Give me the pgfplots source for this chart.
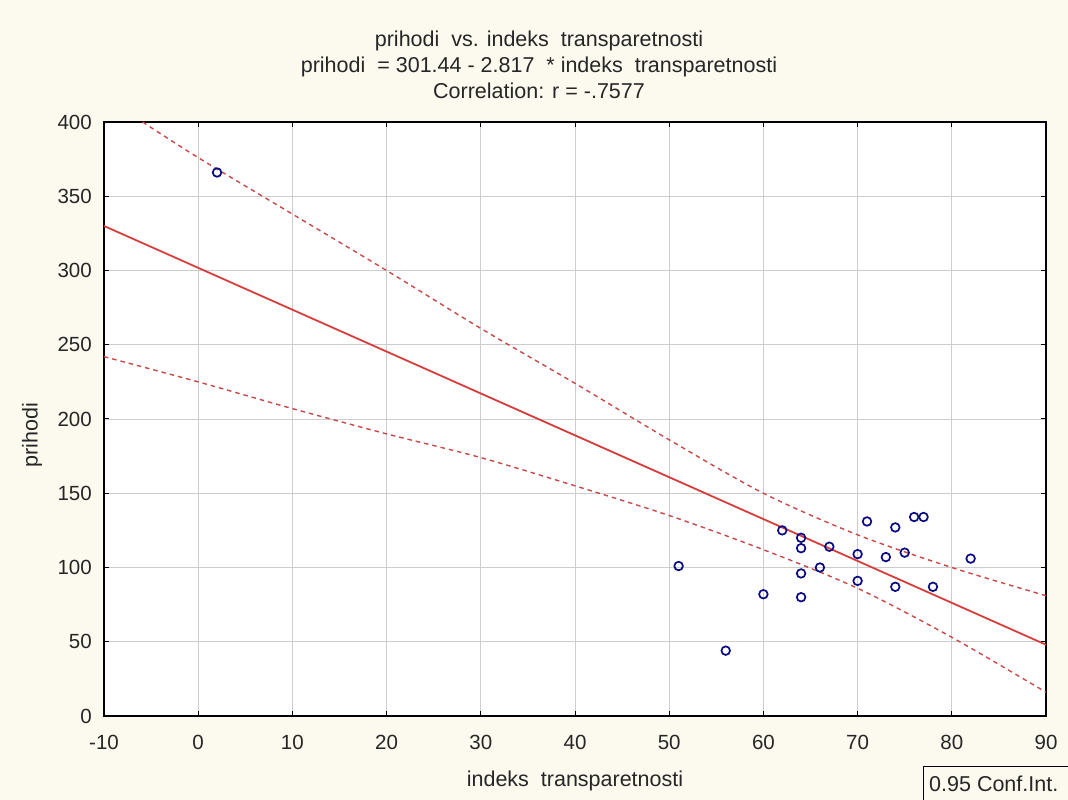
\documentclass[border=0pt]{standalone}
\usepackage{pgfplots}
\pgfplotsset{compat=1.18}
\usepackage{fontspec}
\setmainfont{Liberation Sans}

\definecolor{paper}{RGB}{252,249,238}
\definecolor{fitred}{RGB}{214,62,62}
\definecolor{ptblue}{RGB}{10,10,130}
\definecolor{gridgray}{RGB}{205,205,205}

\newcommand{\tickfont}{\fontsize{20.5}{24}\selectfont}
\newcommand{\labelfont}{\fontsize{21.5}{25}\selectfont}

\begin{document}
\begin{tikzpicture}
\useasboundingbox (-104pt,-84pt) rectangle (964pt,716pt);
\fill[paper] (-104pt,-84pt) rectangle (964pt,716pt);

% title, three lines
\node[anchor=base, font=\labelfont, text=black!85] at (435pt,669pt) {prihodi\ \ vs. indeks\ \ transparetnosti};
\node[anchor=base, font=\labelfont, text=black!85] at (435pt,643pt) {prihodi\ \ = 301.44 - 2.817\ \ * indeks\ \ transparetnosti};
\node[anchor=base, font=\labelfont, text=black!85] at (435pt,617pt) {Correlation: r = -.7577};

\begin{axis}[
    at={(0pt,0pt)}, anchor=south west,
    scale only axis,
    width=942pt, height=594pt,
    xmin=-10, xmax=90, ymin=0, ymax=400,
    xtick={-10,0,...,90},
    ytick={0,50,...,400},
    grid=major,
    major grid style={gridgray, line width=0.9pt},
    axis background/.style={fill=white},
    axis line style={black, line width=1.6pt},
    major tick length=5pt,
    tick style={black, line width=1pt},
    tick align=inside,
    /pgf/number format/assume math mode=true,
    /pgf/number format/.cd, fixed, 1000 sep={}, /pgfplots/.cd,
    ticklabel style={font=\tickfont, text=black!85},
    xticklabel style={anchor=base, inner sep=0pt, yshift=-34pt},
    yticklabel style={anchor=east, inner sep=0pt, xshift=-12pt},
    xlabel={indeks\ \ transparetnosti},
    ylabel={prihodi},
    label style={font=\labelfont, text=black!85},
    xlabel style={at={(axis description cs:0.5,-0.1195)}, anchor=base, inner sep=0pt},
    ylabel style={at={(axis description cs:-0.0764,0.473)}, anchor=center, inner sep=0pt},
]

% regression line
\addplot[fitred, line width=1.8pt] coordinates {(-10,330) (90,48)};

% 0.95 confidence band, upper and lower
\addplot[fitred!85!gray, line width=1.4pt, dash pattern=on 4.5pt off 4pt, smooth] coordinates {
    (-5.9,400) (0,376) (10,338) (20,300) (30,261) (40,224)
    (50,186) (60,150) (70,122) (80,100) (90,81)
};
\addplot[fitred!85!gray, line width=1.4pt, dash pattern=on 4.5pt off 4pt, smooth] coordinates {
    (-10,242) (0,225) (10,207) (20,190) (30,174) (40,155)
    (50,135) (60,112) (70,86) (80,53) (90,16)
};

% observations
\addplot[only marks, mark=o, mark size=4.3pt, ptblue,
    mark options={line width=1.7pt, fill=white}] coordinates {
    (2,366) (51,101) (56,44) (60,82) (62,125)
    (64,120) (64,113) (64,96) (64,80) (66,100)
    (67,114) (70,109) (70,91) (71,131) (73,107)
    (74,127) (74,87) (75,110) (76,134) (77,134)
    (78,87) (82,106)
};
\end{axis}

% legend box, cut by the page edge
\draw[black, line width=1pt, fill=paper] (819pt,-51pt) rectangle (980pt,-100pt);
\node[anchor=base west, font=\labelfont, text=black!85, inner sep=0pt] at (825pt,-76pt) {0.95 Conf.Int.};
\end{tikzpicture}
\end{document}
